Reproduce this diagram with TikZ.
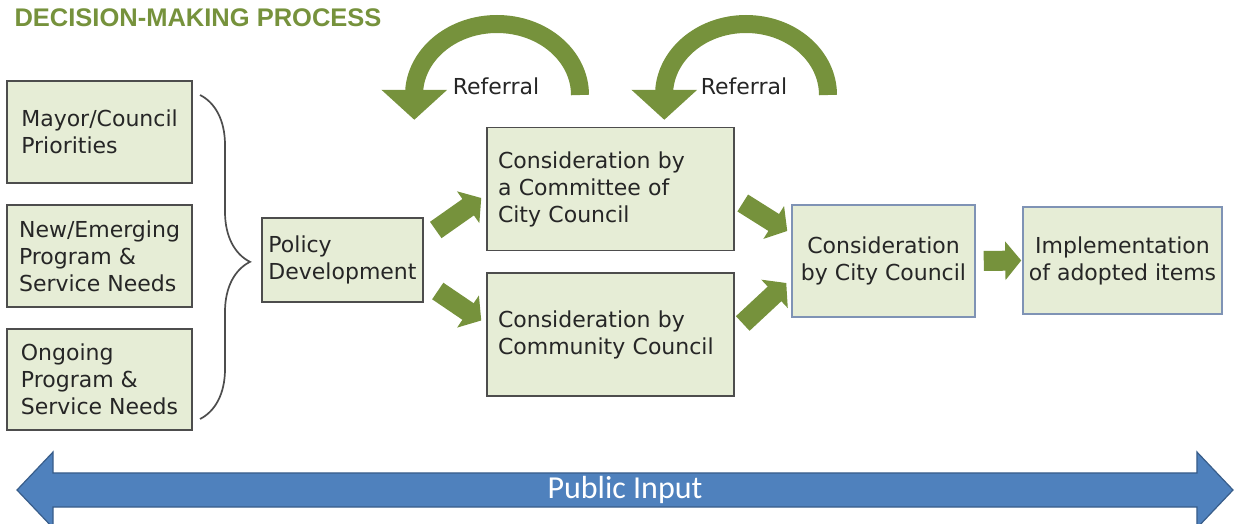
\documentclass[tikz,border=0pt]{standalone}
\usepackage{fontspec}
\setmainfont{DejaVu Sans}
\newfontfamily\titlefont{Liberation Sans}
\newfontfamily\inputfont{Carlito}
\usepackage{xcolor}
\usepackage{tikz}
\usetikzlibrary{arrows.meta,shapes.arrows,decorations.pathreplacing}
\definecolor{leafgreen}{HTML}{76923C}
\definecolor{boxfill}{HTML}{E6EDD6}
\definecolor{boxline}{HTML}{4D4D4D}
\definecolor{blueline}{HTML}{7F93B5}
\definecolor{inputblue}{HTML}{4F81BD}
\definecolor{inputline}{HTML}{385D8A}
\definecolor{textgrey}{HTML}{262626}

\begin{document}
\begin{tikzpicture}[x=1pt,y=1pt,
  box/.style={draw=boxline,fill=boxfill,line width=1.5pt,inner sep=0pt,text=textgrey,
    font=\fontsize{22}{27}\selectfont,align=left},
  widebox/.style={box,minimum width=247pt,minimum height=123pt,
    text width=225pt,inner xsep=11pt},
  bluebox/.style={box,draw=blueline,align=center},
  flow/.style={leafgreen,line width=20pt,-{Triangle[width=38pt,length=16pt]}},
  referral/.style={leafgreen,line width=18pt,-{Triangle[width=64pt,length=30pt]}},
  publicarrow/.style={double arrow,draw=inputline,fill=inputblue,line width=1.2pt,
    minimum height=1216pt,minimum width=76pt,double arrow head extend=17.5pt,
    double arrow tip angle=93,inner sep=0pt,text=white,
    font=\inputfont\fontsize{32}{32}\selectfont}]
\useasboundingbox (0,0) rectangle (1235,-524);

\node[anchor=base west,text=leafgreen,font=\titlefont\bfseries\fontsize{25.5}{28}\selectfont]
  (title) at (11,-26.5) {DECISION-MAKING PROCESS};

\draw[referral] (580,-95) arc[start angle=0,end angle=175,x radius=83,y radius=71] -- ++(0,-31);
\node[text=textgrey,font=\fontsize{22}{27}\selectfont] (ref1) at (496,-86) {Referral};
\draw[referral] (828,-95) arc[start angle=0,end angle=175,x radius=82,y radius=71] -- ++(0,-31);
\node[text=textgrey,font=\fontsize{22}{27}\selectfont] (ref2) at (744,-86) {Referral};

\node[box,minimum width=185pt,minimum height=102pt] (mayor) at (99.5,-132) {Mayor/Council\\Priorities};
\node[box,minimum width=185pt,minimum height=102pt] (new) at (99.5,-256) {New/Emerging\\Program \&\\Service Needs};
\node[box,minimum width=185pt,minimum height=101pt] (ongoing) at (99.5,-379.5) {Ongoing\\Program \&\\Service Needs};

\draw[boxline,line width=1.7pt,decorate,decoration={brace,amplitude=50pt,aspect=0.515}]
  (200,-95) -- (200,-419);

\node[box,minimum width=161pt,minimum height=84pt] (pol) at (342.5,-260) {Policy\\Development};
\node[widebox] (com) at (610.5,-189) {Consideration by\\a Committee of\\City Council};
\node[widebox] (cmty) at (610.5,-334.5) {Consideration by\\Community Council};
\node[bluebox,minimum width=183pt,minimum height=112pt] (city) at (883.5,-261) {Consideration\\by City Council};
\node[bluebox,minimum width=199pt,minimum height=107pt] (impl) at (1122.5,-260.5) {Implementation\\of adopted items};

\draw[flow] ([xshift=12pt,yshift=30pt]pol.east) -- ([xshift=-5pt,yshift=-9pt]com.west);
\draw[flow] ([xshift=14pt,yshift=-31pt]pol.east) -- ([xshift=-5pt,yshift=14pt]cmty.west);
\draw[flow] ([xshift=8pt,yshift=-14pt]com.east) -- ([xshift=-4pt,yshift=30pt]city.west);
\draw[flow] ([xshift=8pt,yshift=11pt]cmty.east) -- ([xshift=-5pt,yshift=-22pt]city.west);
\draw[flow] ([xshift=8pt]city.east) -- ([xshift=-1pt]impl.west);

\node[publicarrow] (pub) at (625,-490) {Public Input};
\end{tikzpicture}
\end{document}
